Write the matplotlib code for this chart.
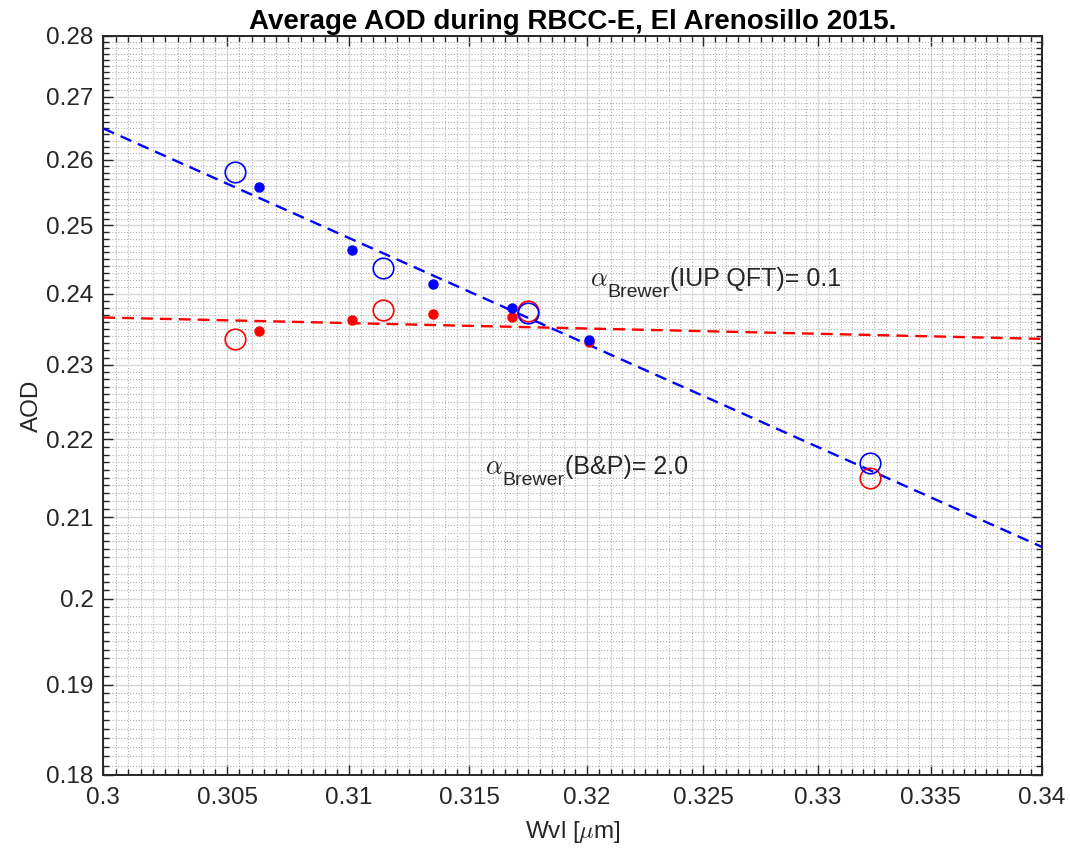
import matplotlib
matplotlib.use("Agg")
import matplotlib.pyplot as plt
from matplotlib.ticker import MultipleLocator, FuncFormatter, NullFormatter

# wavelengths in micrometres
wvl_ref = [0.3053, 0.3114, 0.3175, 0.3323]
wvl_brewer = [0.3063, 0.3101, 0.3135, 0.3168, 0.3201]

# big open circles
aod_ref_blue = [0.2581, 0.2437, 0.2372, 0.2169]
aod_ref_red = [0.2336, 0.2377, 0.2375, 0.2149]

# small filled dots
aod_brewer_blue = [0.2558, 0.2464, 0.2414, 0.2379, 0.2335]
aod_brewer_red = [0.2347, 0.2363, 0.2371, 0.2367, 0.2331]

# fitted lines (Angstrom power law, straight on log-log axes)
fit_x = [0.30, 0.34]
fit_blue = [0.2649, 0.2063]
fit_red = [0.2366, 0.2336]

labels = ['(IUP QFT)= 0.1', '(B&P)= 2.0']
label_x = [0.32012, 0.31567]
label_y = [0.24113, 0.21544]

plt.rcParams['font.family'] = ['Liberation Sans', 'DejaVu Sans']
plt.rcParams['mathtext.fontset'] = 'cm'

fig = plt.figure(figsize=(10.7, 8.48), dpi=100)
ax = fig.add_axes([0.0965, 0.0861, 0.877, 0.8718])

ax.plot(fit_x, fit_blue, '--', color='#0000ff', lw=1.7, dashes=(5, 3), zorder=3)
ax.plot(fit_x, fit_red, '--', color='#ff0000', lw=1.7, dashes=(5, 3), zorder=3)

ax.plot(wvl_ref, aod_ref_red, 'o', mfc='none', mec='#ff0000', ms=14.8, mew=1.2, zorder=4)
ax.plot(wvl_ref, aod_ref_blue, 'o', mfc='none', mec='#0000ff', ms=14.8, mew=1.2, zorder=4)
ax.plot(wvl_brewer, aod_brewer_red, 'o', color='#ff0000', ms=6.5, zorder=4)
ax.plot(wvl_brewer, aod_brewer_blue, 'o', color='#0000ff', ms=6.5, zorder=4)

ax.set_xscale('log')
ax.set_yscale('log')
ax.set_xlim(0.30, 0.34)
ax.set_ylim(0.18, 0.28)

fmt = FuncFormatter(lambda v, p: '%g' % round(v, 4))
ax.xaxis.set_major_locator(MultipleLocator(0.005))
ax.xaxis.set_minor_locator(MultipleLocator(0.0005))
ax.yaxis.set_major_locator(MultipleLocator(0.01))
ax.yaxis.set_minor_locator(MultipleLocator(0.001))
ax.xaxis.set_major_formatter(fmt)
ax.yaxis.set_major_formatter(fmt)
ax.xaxis.set_minor_formatter(NullFormatter())
ax.yaxis.set_minor_formatter(NullFormatter())

ax.grid(True, which='major', color='#d9d9d9', lw=1.0, ls='-', zorder=0)
ax.grid(True, which='minor', color='#b0b0b0', lw=0.8, ls=':', zorder=0)
ax.set_axisbelow(True)

ax.tick_params(which='both', direction='in', top=True, right=True,
               labelsize=17.5, labelcolor='#262626', color='#262626', width=1.0)
ax.tick_params(which='major', length=7)
ax.tick_params(which='minor', length=4)
ax.tick_params(axis='x', pad=9)
ax.tick_params(axis='y', pad=7)
for s in ax.spines.values():
    s.set_linewidth(1.4)
    s.set_color('#262626')

# alpha_Brewer labels: symbol, subscript and text drawn side by side
renderer = fig.canvas.get_renderer()
for txt, lx, ly in zip(labels, label_x, label_y):
    t1 = ax.text(lx, ly, r'$\alpha$', fontsize=19, color='#262626', va='baseline')
    w1 = t1.get_window_extent(renderer).width
    t2 = ax.annotate('Brewer', (lx, ly), xytext=(w1, -11), textcoords='offset pixels',
                     fontsize=14, color='#262626', va='baseline')
    w2 = t2.get_window_extent(renderer).width
    ax.annotate(txt, (lx, ly), xytext=(w1 + w2, 0), textcoords='offset pixels',
                fontsize=18, color='#262626', va='baseline')

ax.set_title('Average AOD during RBCC-E, El Arenosillo 2015.',
             fontsize=20, fontweight='bold', pad=4.8)
ax.set_xlabel(r'Wvl [$\mu$m]', fontsize=17.5, color='#262626', labelpad=7)
ax.set_ylabel('AOD', fontsize=17.5, color='#262626', labelpad=2)

fig.savefig('out.png', dpi=100)
